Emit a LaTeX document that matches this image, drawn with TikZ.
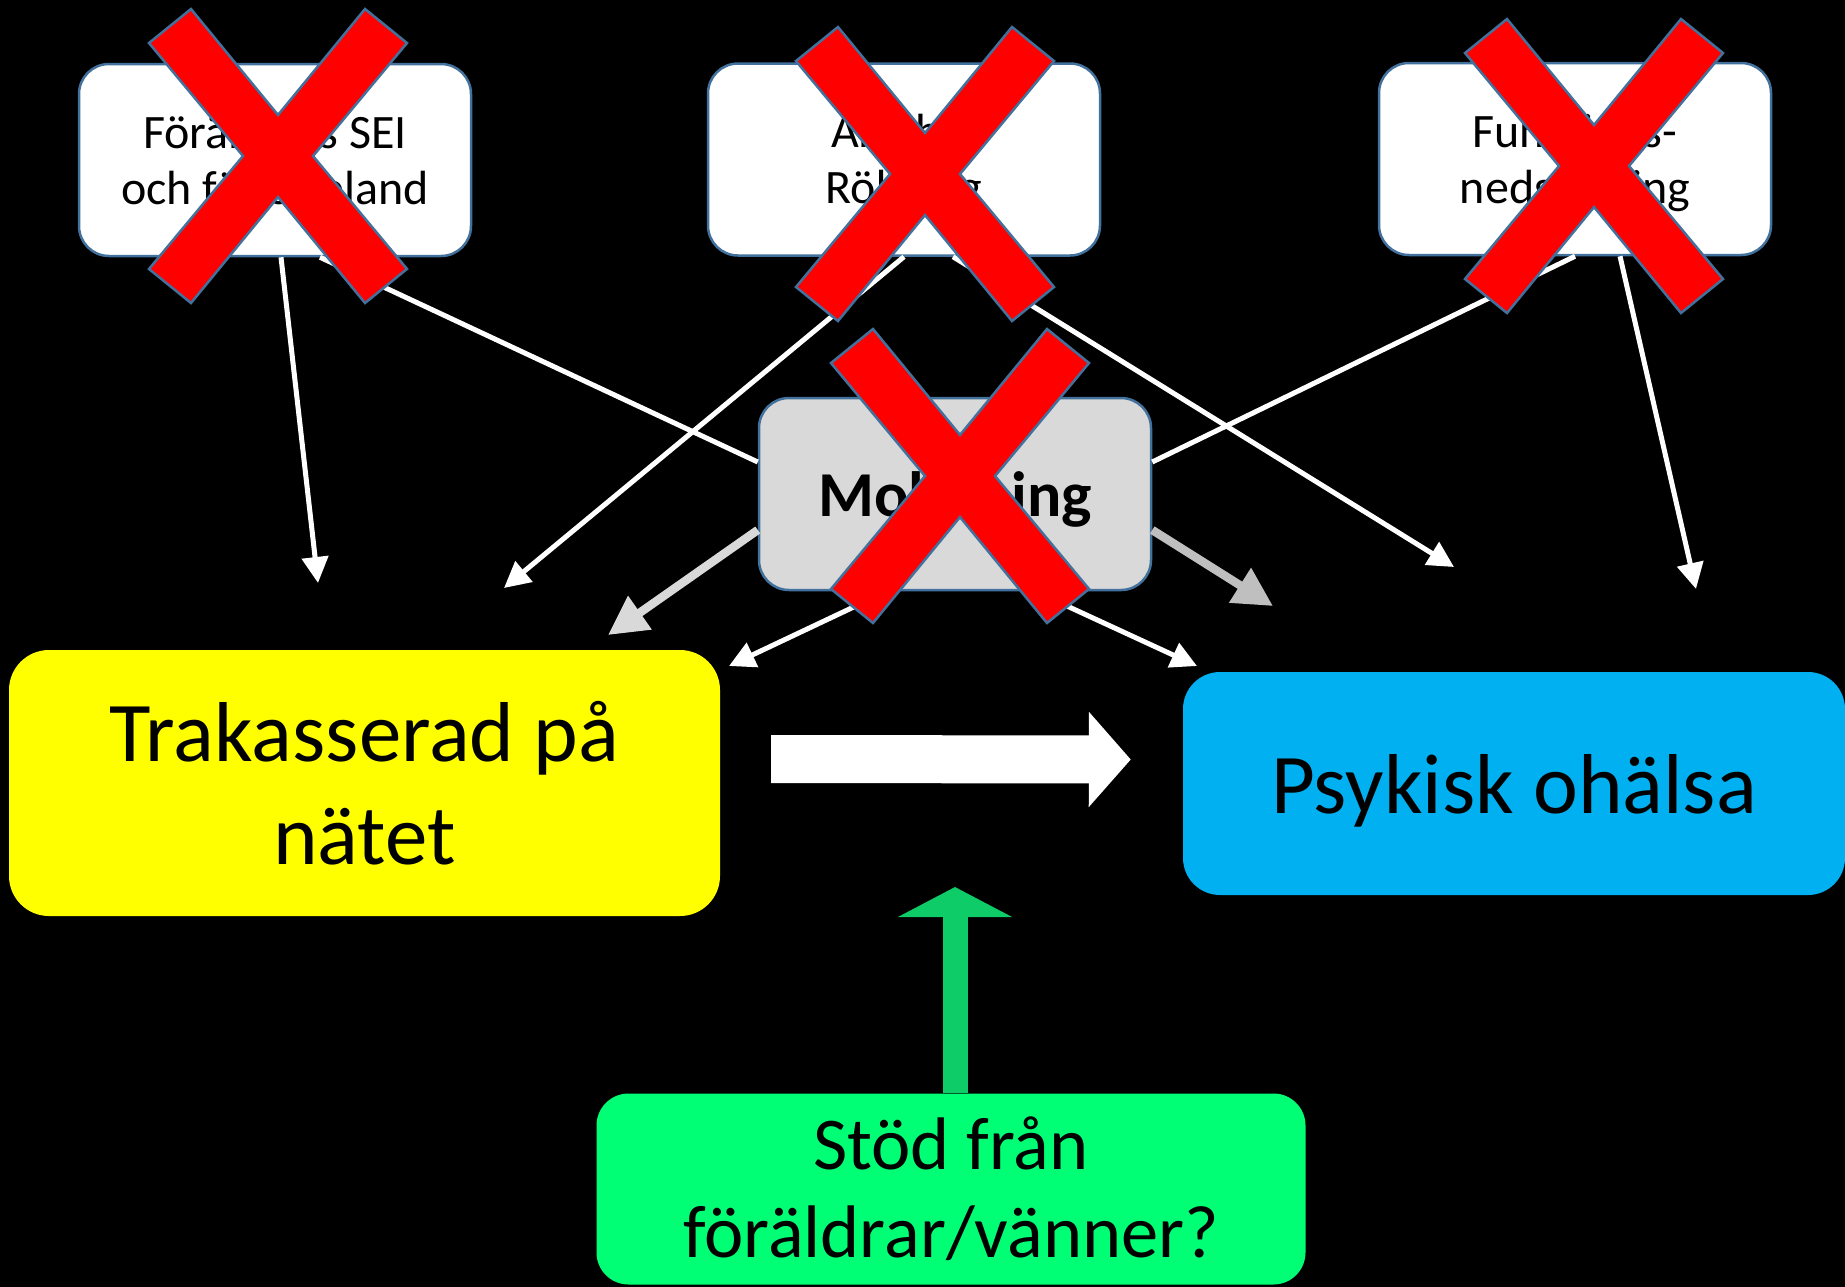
\documentclass[tikz,border=0pt]{standalone}
\usepackage{fontspec}
\setmainfont{Carlito}
\usetikzlibrary{arrows.meta,calc}

\definecolor{xborder}{RGB}{65,113,156}
\definecolor{mobgray}{RGB}{217,217,217}
\definecolor{darkgray}{RGB}{191,191,191}
\definecolor{trakyellow}{RGB}{255,255,0}
\definecolor{psykblue}{RGB}{0,176,240}
\definecolor{stodgreen}{RGB}{0,255,116}
\definecolor{stodarrow}{RGB}{14,204,104}

\begin{document}
\begin{tikzpicture}[x=1pt, y=-1pt,
    box/.style={draw=xborder, line width=2.5pt, rounded corners=30pt, inner sep=0pt, align=center},
    factor/.style={box, fill=white, minimum width=392pt, minimum height=192pt, font=\fontsize{48}{56}\selectfont, text height=100pt, text depth=12pt},
    mediator/.style={box, fill=mobgray, minimum width=392pt, minimum height=192pt, font=\bfseries\fontsize{64}{77}\selectfont, text depth=0pt},
    mainbox/.style={rounded corners=40pt, inner sep=0pt, align=center, font=\fontsize{85}{103}\selectfont},
    thinarr/.style={-{Triangle[length=26pt, width=26pt]}, line width=5pt, white},
    thinline/.style={line width=5pt, white},
    greyarr/.style={-{Triangle[length=39pt, width=39pt]}, line width=8.5pt},
    blockarr/.style={-{Triangle[length=42pt, width=93pt]}, line width=48pt, white},
    supportarr/.style={-{Triangle[length=30pt, width=113pt]}, line width=25pt, stodarrow},
    crossout/.pic={
        \draw[fill=red, draw=xborder, line width=2.5pt]
            (-129,-113) -- (-87,-147) -- (0,-41) -- (87,-147) -- (129,-113) -- (35,0)
            -- (129,113) -- (87,147) -- (0,41) -- (-87,147) -- (-129,113) -- (-35,0) -- cycle;
    },
]
    % === CANVAS ===
    \useasboundingbox (0,0) rectangle (1845,1286);
    \fill[black] (-10,-10) rectangle (1855,1296);

    % === TOP ROW: background factors ===
    \node[factor] (sei) at (275,160) {Föräldrars SEI\\och födelseland};
    \node[factor] (alko) at (904,159.5) {Alkohol\\Rökning};
    \node[factor] (funk) at (1575,159) {Funktions-\\nedsättning};

    % === MEDIATOR ===
    \node[mediator] (mob) at (955,494) {Mobbning};

    % === MAIN ROW ===
    \node[mainbox, fill=trakyellow, minimum width=711pt, minimum height=266pt] (trak) at (364.5,783) {Trakasserad på\\nätet};
    \node[mainbox, fill=psykblue, rounded corners=37pt, minimum width=662pt, minimum height=223pt, text depth=0pt] (psyk) at (1514,783.5) {Psykisk ohälsa};

    % === SUPPORT ===
    \node[mainbox, fill=stodgreen, rounded corners=32pt, minimum width=709pt, minimum height=191pt, font=\fontsize{74.5}{88}\selectfont] (stod) at (951,1189) {Stöd från\\föräldrar/vänner?};

    % === ARROW TIPS ===
    \coordinate (seitip) at (318,583);
    \coordinate (alkotipl) at (504,588);
    \coordinate (alkotipr) at (1454,567);
    \coordinate (funktip) at (1696,589);
    \coordinate (mobtipl) at (608,635);
    \coordinate (mobtipr) at (1273,606);
    \coordinate (mobtrak) at (729,666);
    \coordinate (mobpsyk) at (1197,666);
    \coordinate (stodtip) at (955,887);

    % === ARROWS: factors ===
    \draw[thinarr] ([xshift=6pt]sei.south) -- (seitip);
    \draw[thinline] ([xshift=45pt]sei.south) -- ([yshift=32pt]mob.west);
    \draw[thinarr] (alko.south) -- (alkotipl);
    \draw[thinarr] ([xshift=49pt]alko.south) -- (alkotipr);
    \draw[thinline] (funk.south) -- ([yshift=32pt]mob.east);
    \draw[thinarr] ([xshift=45pt]funk.south) -- (funktip);

    % === ARROWS: mediator ===
    \draw[greyarr, mobgray] ([yshift=-36pt]mob.west) -- (mobtipl);
    \draw[greyarr, darkgray] ([yshift=-36pt]mob.east) -- (mobtipr);
    \draw[thinarr] ([xshift=-68pt]mob.south) -- (mobtrak);
    \draw[thinarr] ([xshift=80pt]mob.south) -- (mobpsyk);

    % === ARROWS: main effect and support ===
    \draw[blockarr] ([xshift=51pt, yshift=24pt]trak.east) -- ([xshift=-52pt, yshift=24pt]psyk.west);
    \draw[supportarr] (stod.north -| stodtip) -- (stodtip);

    % === CROSSES ===
    \pic at (278,156) {crossout};
    \pic at (925,174) {crossout};
    \pic at (1594,166) {crossout};
    \pic at (960,476) {crossout};
\end{tikzpicture}
\end{document}
